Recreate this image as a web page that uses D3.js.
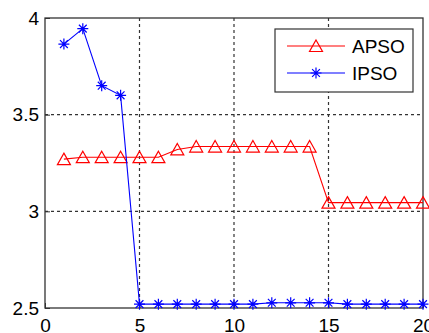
<!DOCTYPE html>
<html>
<head>
<meta charset="utf-8">
<script src="https://cdn.jsdelivr.net/npm/d3@7"></script>
<style>
  body { margin: 0; background: #fff; }
  svg text { font-family: "Liberation Sans", Arial, sans-serif; }
</style>
</head>
<body>
<svg id="chart" width="429" height="333"></svg>
<script>
// data
var iters = [1,2,3,4,5,6,7,8,9,10,11,12,13,14,15,16,17,18,19,20];
var apso = [3.27,3.28,3.28,3.28,3.28,3.28,3.32,3.335,3.335,3.335,3.335,3.335,3.335,3.335,3.045,3.045,3.045,3.045,3.045,3.045];
var ipso = [3.865,3.945,3.65,3.6,2.52,2.52,2.52,2.52,2.52,2.52,2.52,2.527,2.527,2.527,2.527,2.52,2.52,2.52,2.52,2.52];
var xTicks = [0,5,10,15,20];
var yTicks = [2.5,3,3.5,4];
var seriesNames = ["APSO","IPSO"];

var svg = d3.select("#chart");
var pLeft = 45, pRight = 423, pTop = 18, pBottom = 308;

var x = d3.scaleLinear().domain([0,20]).range([pLeft,pRight]);
var y = d3.scaleLinear().domain([2.5,4]).range([pBottom,pTop]);

// dotted grid
var grid = svg.append("g");
grid.selectAll("line.gx").data(xTicks.slice(1,-1)).enter()
  .append("line").attr("class","gx")
  .attr("x1", d=>x(d)).attr("x2", d=>x(d))
  .attr("y1", pTop).attr("y2", pBottom)
  .attr("stroke","#333").attr("stroke-dasharray","3,3").attr("stroke-width",1.2);
grid.selectAll("line.gy").data(yTicks.slice(1,-1)).enter()
  .append("line").attr("class","gy")
  .attr("x1", pLeft).attr("x2", pRight)
  .attr("y1", d=>y(d)).attr("y2", d=>y(d))
  .attr("stroke","#333").attr("stroke-dasharray","3,3").attr("stroke-width",1.2);

// axes
var xAxis = d3.axisBottom(x).tickValues(xTicks).tickSize(-5).tickPadding(11);
var yAxis = d3.axisLeft(y).tickValues(yTicks).tickSize(-5).tickPadding(6)
  .tickFormat(d3.format("~g"));

function styleAxis(g) {
  g.select(".domain").remove();
  g.selectAll("line").attr("stroke","#333");
  g.selectAll("text").attr("font-size",19).attr("fill","#000")
    .attr("font-family","'Liberation Sans', Arial, sans-serif");
}
svg.append("g").attr("transform","translate(0,"+pBottom+")").call(xAxis).call(styleAxis);
svg.append("g").attr("transform","translate("+pLeft+",0)").call(yAxis).call(styleAxis);

svg.append("rect")
  .attr("x", pLeft).attr("y", pTop)
  .attr("width", pRight-pLeft).attr("height", pBottom-pTop)
  .attr("fill","none").attr("stroke","#333").attr("stroke-width",1.3);

function triangle(g, cx, cy) {
  g.append("path")
    .attr("d", "M"+cx+","+(cy-6)+"L"+(cx+6.5)+","+(cy+5.5)+"L"+(cx-6.5)+","+(cy+5.5)+"Z")
    .attr("fill","none").attr("stroke","#ff0000").attr("stroke-width",1.2);
}
function star(g, cx, cy) {
  var r = 5.5, d = 3.9;
  g.append("path")
    .attr("d", "M"+(cx-r)+","+cy+"H"+(cx+r)+"M"+cx+","+(cy-r)+"V"+(cy+r)+
      "M"+(cx-d)+","+(cy-d)+"L"+(cx+d)+","+(cy+d)+"M"+(cx-d)+","+(cy+d)+"L"+(cx+d)+","+(cy-d))
    .attr("stroke","#0000ff").attr("stroke-width",1.2).attr("fill","none");
}

var line = d3.line().x(d=>x(d[0])).y(d=>y(d[1]));
var plot = svg.append("g");

plot.append("path").datum(d3.zip(iters, apso)).attr("d", line)
  .attr("fill","none").attr("stroke","#ff0000").attr("stroke-width",1.1);
var g1 = plot.append("g");
iters.forEach((t,i)=>triangle(g1, x(t), y(apso[i])));

plot.append("path").datum(d3.zip(iters, ipso)).attr("d", line)
  .attr("fill","none").attr("stroke","#0000ff").attr("stroke-width",1.1);
var g2 = plot.append("g");
iters.forEach((t,i)=>star(g2, x(t), y(ipso[i])));

// legend
var lg = svg.append("g");
lg.append("rect").attr("x",275).attr("y",29).attr("width",138).attr("height",63)
  .attr("fill","#fff").attr("stroke","#333").attr("stroke-width",1.2);
var colors = ["#ff0000","#0000ff"];
seriesNames.forEach(function(name,i){
  var ly = 46 + i*27;
  lg.append("line").attr("x1",287).attr("x2",345).attr("y1",ly).attr("y2",ly)
    .attr("stroke",colors[i]).attr("stroke-width",1.1);
  if (i===0) triangle(lg, 316, ly); else star(lg, 316, ly);
  lg.append("text").attr("x",352).attr("y",ly+7).attr("font-size",19)
    .attr("fill","#000").text(name);
});
</script>
</body>
</html>
